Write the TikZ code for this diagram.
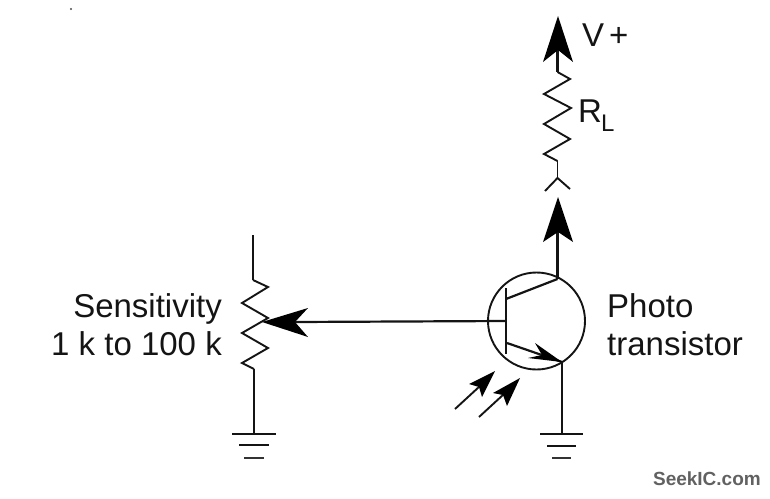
\documentclass[tikz,border=0pt]{standalone}
\usepackage{fontspec}
\setmainfont{Liberation Sans}
\tikzset{
  wire/.style={line width=2.2pt,black!92,line cap=butt,line join=miter},
  thin wire/.style={line width=1.9pt,black!92},
  head/.style={fill=black,draw=none},
  lbl/.style={inner sep=0pt,font=\fontsize{33}{35}\selectfont,text=black!92},
  mark text/.style={inner sep=0pt,font=\fontsize{19}{21}\selectfont\bfseries,text=black!62}
}
\begin{document}
\begin{tikzpicture}[x=1pt,y=-1pt]
\useasboundingbox (0,0) rectangle (770,498);
\fill[black!70] (71,9) circle (1.2pt);
% named points
\coordinate (vtop) at (557.5,50);
\coordinate (rlT) at (557.5,72);
\coordinate (rlB) at (557.5,161);
\coordinate (fork) at (557.5,178);
\coordinate (arrB) at (557.5,232);
\coordinate (col) at (557.5,279);
\coordinate (colin) at (506,299);
\coordinate (emin) at (507,343);
\coordinate (em) at (562,362);
\coordinate (baseb) at (506,321);
\coordinate (wiper) at (295,322);
\coordinate (potT) at (253,235);
\coordinate (potA) at (253,280);
\coordinate (potB) at (254,369);
\coordinate (gndL) at (254,434);
\coordinate (gndR) at (562,434);
% transistor
\node[circle,draw,line width=1.9pt,black!92,minimum size=97pt,inner sep=0pt] (Q) at (536.5,321) {};
\draw[wire] (506,288) -- (506,354);
\draw[wire] (colin) -- (col);
\draw[wire] (emin) -- (em);
\draw[wire] (baseb) -- (wiper);
\fill[head] (em) -- (535,343) -- (542,355) -- (528,358) -- cycle;
% V+ and load resistor
\draw[wire] (vtop) -- (rlT);
\fill[head] (558,16) -- (573,62) -- (558,50) -- (543,62) -- cycle;
\draw[thin wire] (rlT) -- (570,79) -- (544,94) -- (571,108) -- (544,124) -- (570,139) -- (544,154) -- (rlB);
\draw[thin wire] (rlB) -- (fork);
\draw[thin wire] (545,191) -- (fork) -- (570,189);
% collector arrow
\draw[wire] (arrB) -- (col);
\fill[head] (558,197) -- (573,242) -- (558,232) -- (543,242) -- cycle;
% emitter ground
\draw[wire] (em) -- (gndR);
\draw[wire] (540,434) -- (583,434);
\draw[line width=2.6pt,black!92] (547,446) -- (576,446);
\draw[line width=2.2pt,black!80] (552,458) -- (571,458);
% light arrows
\coordinate (l1a) at (455,409); \coordinate (l1b) at (480,386);
\coordinate (l2a) at (479,417); \coordinate (l2b) at (504,394);
\draw[thin wire] (l1a) -- (l1b);
\draw[thin wire] (l2a) -- (l2b);
\fill[head] (495,371) -- (482,397) -- (479,387) -- (469,384) -- cycle;
\fill[head] (520,378) -- (507,406) -- (503,395) -- (493,393) -- cycle;
% potentiometer
\draw[wire] (potT) -- (potA);
\draw[thin wire] (potA) -- (268,287) -- (242,303) -- (268,318) -- (242,333) -- (268,348) -- (242,363) -- (potB);
\draw[wire] (potB) -- (gndL);
\fill[head] (262,322) -- (308,308) -- (295,322) -- (308,337) -- cycle;
\draw[wire] (232,434) -- (276,434);
\draw[line width=2.6pt,black!92] (239,445) -- (269,445);
\draw[line width=2.2pt,black!80] (244,458) -- (264,458);
% labels
\node[lbl,anchor=base west] (vp) at (582,46) {V};
\node[lbl,anchor=base west,font=\fontsize{33}{35}\selectfont] (plus) at (609,46) {+};
\node[lbl,anchor=base west] (rl) at (578,122) {R};
\node[lbl,anchor=base west,font=\fontsize{24}{26}\selectfont] (rlsub) at (601,131) {L};
\node[lbl,anchor=base east] (s1) at (222,317) {Sensitivity};
\node[lbl,anchor=base east] (s2) at (222,355) {1 k to 100 k};
\node[lbl,anchor=base west] (p1) at (607,317) {Photo};
\node[lbl,anchor=base west] (p2) at (607,355) {transistor};
\node[mark text,anchor=base east] (wm) at (761,485) {SeekIC.com};
\end{tikzpicture}
\end{document}
